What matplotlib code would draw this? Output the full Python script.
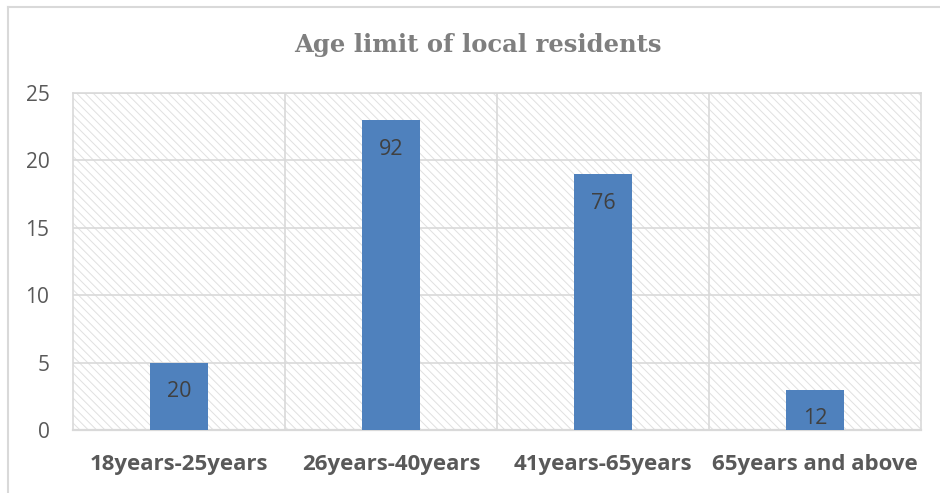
import matplotlib.pyplot as plt
from matplotlib.patches import Rectangle
from matplotlib.lines import Line2D
import numpy as np

categories = ["18years-25years", "26years-40years", "41years-65years", "65years and above"]
respondents = [20, 92, 76, 12]
# the value axis runs in groups of four respondents
group_size = 4
y_ticks = [0, 5, 10, 15, 20, 25]

BAR_COLOR = "#4F81BD"
GRID_COLOR = "#D9D9D9"
TEXT_COLOR = "#595959"
FONT = "Open Sans"

plt.rcParams["hatch.linewidth"] = 0.7

fig = plt.figure(figsize=(9.4, 4.93), dpi=100)
ax = fig.add_axes([73 / 940, 63 / 493, 848 / 940, 337 / 493])

# faint diagonal hatching behind the plot area
ax.add_patch(Rectangle((0, 0), 1, 1, transform=ax.transAxes, facecolor="white",
                       edgecolor="#E0E0E0", hatch="\\\\\\\\", lw=0, zorder=0))

x = np.arange(len(categories))
heights = np.array(respondents) / group_size
bars = ax.bar(x, heights, width=0.275, color=BAR_COLOR, zorder=3)

for b, n in zip(bars, respondents):
    ax.annotate(str(n), (b.get_x() + b.get_width() / 2, b.get_height()),
                xytext=(0, -21), textcoords="offset points", ha="center", va="center",
                fontsize=15.5, color="#404040", family=FONT, zorder=4)

ax.set_xlim(-0.5, len(categories) - 0.5)
ax.set_ylim(0, 25)
ax.set_yticks(y_ticks)
ax.set_yticklabels([str(t) for t in y_ticks], fontsize=15, color=TEXT_COLOR, family=FONT)
ax.set_xticks(x)
ax.set_xticklabels(categories, fontsize=16, fontweight="bold", color=TEXT_COLOR, family=FONT)
ax.tick_params(length=0)
ax.tick_params(axis="y", pad=17)
ax.tick_params(axis="x", pad=17)

# grid: horizontal at each tick, vertical between categories
for t in y_ticks[1:]:
    ax.axhline(t, color=GRID_COLOR, lw=1.2, zorder=1)
for s in np.arange(0.5, len(categories) - 0.5):
    ax.axvline(s, color=GRID_COLOR, lw=1.2, zorder=1)

for side in ax.spines.values():
    side.set_color(GRID_COLOR)
    side.set_linewidth(1.2)
ax.spines["bottom"].set_linewidth(1.6)

fig.text(478 / 940, 1 - 45 / 493, "Age limit of local residents", ha="center", va="center",
         fontsize=17.5, fontweight="bold", color="#7F7F7F", family="DejaVu Serif")

# chart frame (left and top edges)
fig.add_artist(Line2D([8 / 940, 8 / 940], [0, 1 - 7 / 493], transform=fig.transFigure,
                      color=GRID_COLOR, lw=1.5))
fig.add_artist(Line2D([8 / 940, 1], [1 - 7 / 493, 1 - 7 / 493], transform=fig.transFigure,
                      color=GRID_COLOR, lw=1.5))

fig.savefig("out.png", dpi=100, facecolor="white")
